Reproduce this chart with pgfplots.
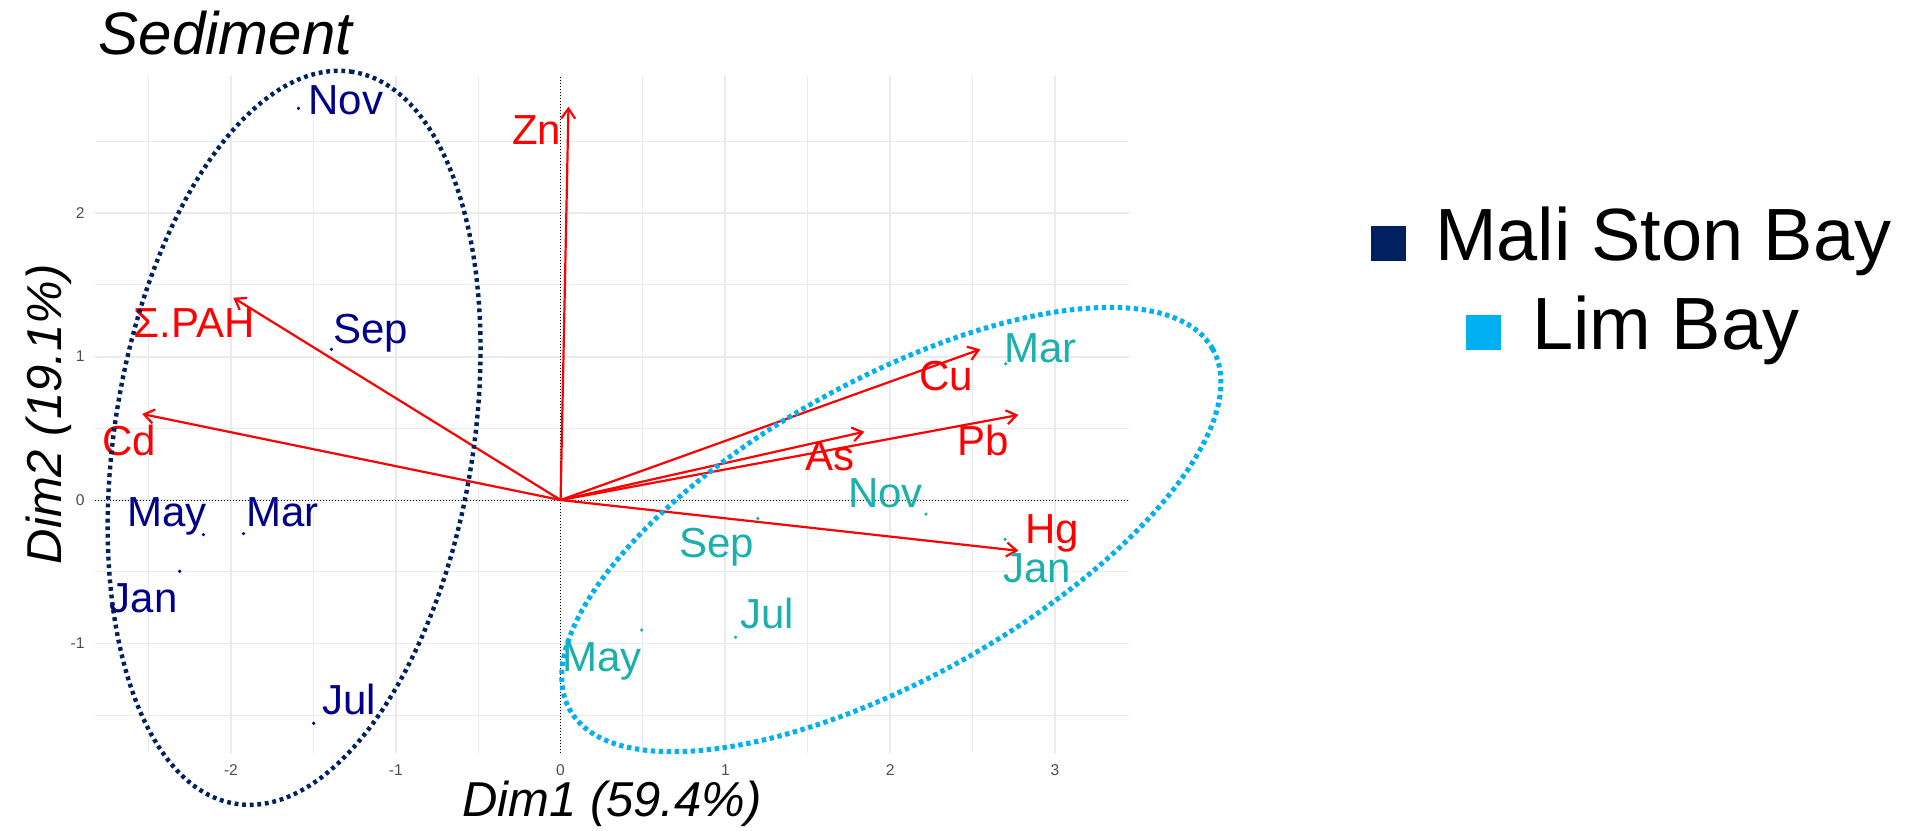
\documentclass[border=0pt]{standalone}
\usepackage{fontspec}
\setmainfont{Liberation Sans}
\usepackage{pgfplots}
\pgfplotsset{compat=1.18}
\usetikzlibrary{arrows.meta}
\definecolor{mali}{HTML}{00008B}
\definecolor{lim}{HTML}{1CB0AC}
\definecolor{maliell}{HTML}{002060}
\definecolor{limell}{HTML}{00B0F0}
\definecolor{gridc}{HTML}{EBEBEB}
\definecolor{tickc}{HTML}{4D4D4D}
\newcommand\lblfont{\fontsize{21}{24}\selectfont}
\begin{document}
\begin{tikzpicture}
\useasboundingbox (0,0) rectangle (960.5pt,415pt);
\begin{axis}[
  at={(47.5pt,38.65pt)}, anchor=south west,
  scale only axis, width=517pt, height=338.35pt,
  xmin=-2.825, xmax=3.449, ymin=-1.762, ymax=2.957,
  xtick={-2,-1,0,1,2,3}, ytick={-1,0,1,2},
  minor xtick={-2.5,-1.5,-0.5,0.5,1.5,2.5},
  minor ytick={-1.5,-0.5,0.5,1.5,2.5},
  grid=both,
  major grid style={gridc, line width=0.9pt},
  minor grid style={gridc, line width=0.5pt},
  axis line style={draw=none},
  major tick length=0pt, minor tick length=0pt,
  tick style={draw=none},
  ticklabel style={font=\fontsize{7.8}{9}\selectfont, text=tickc},
  /pgf/number format/assume math mode=true,
  xticklabel style={anchor=north, inner sep=0pt, yshift=-6pt},
  yticklabel style={anchor=east, inner sep=0pt, xshift=-5pt},
  xlabel={\itshape Dim1 (59.4\%)},
  ylabel={\itshape Dim2 (19.1\%)},
  label style={font=\fontsize{24.5}{28}\selectfont},
  xlabel style={at={([yshift=-32pt]axis description cs:0.5,0)}, anchor=base},
  ylabel style={at={([xshift=-16.5pt]axis description cs:0,0.5)}, anchor=base},
  clip=false,
]
% zero reference lines
\addplot[black, line width=0.5pt, dash pattern=on 0.5pt off 1pt] coordinates {(0,-1.762) (0,2.957)};
\addplot[black, line width=0.5pt, dash pattern=on 0.5pt off 1pt] coordinates {(-2.825,0) (3.449,0)};
% variable arrows
\addplot[red, line width=1.1pt, -{Straight Barb[length=5pt,width=7pt]}] coordinates {(0,0) (0.048,2.743)};
\addplot[red, line width=1.1pt, -{Straight Barb[length=5pt,width=7pt]}] coordinates {(0,0) (-1.986,1.411)};
\addplot[red, line width=1.1pt, -{Straight Barb[length=5pt,width=7pt]}] coordinates {(0,0) (-2.539,0.600)};
\addplot[red, line width=1.1pt, -{Straight Barb[length=5pt,width=7pt]}] coordinates {(0,0) (2.547,1.051)};
\addplot[red, line width=1.1pt, -{Straight Barb[length=5pt,width=7pt]}] coordinates {(0,0) (1.843,0.476)};
\addplot[red, line width=1.1pt, -{Straight Barb[length=5pt,width=7pt]}] coordinates {(0,0) (2.778,0.593)};
\addplot[red, line width=1.1pt, -{Straight Barb[length=5pt,width=7pt]}] coordinates {(0,0) (2.778,-0.354)};
% individuals
\addplot[only marks, mark=*, mark size=0.6pt, mali] coordinates {(-1.590,2.731) (-1.390,1.051) (-2.167,-0.241) (-1.924,-0.234) (-2.311,-0.497) (-1.498,-1.557)};
\addplot[only marks, mark=*, mark size=0.6pt, lim] coordinates {(0.492,-0.907) (1.062,-0.957) (1.197,-0.128) (2.217,-0.098) (2.697,-0.274) (2.70,0.95)};
% individual labels
\node[anchor=base west, inner sep=0pt, text=mali, font=\lblfont] at (axis cs:-1.532,2.685) {Nov};
\node[anchor=base west, inner sep=0pt, text=mali, font=\lblfont] at (axis cs:-1.380,1.095) {Sep};
\node[anchor=base west, inner sep=0pt, text=mali, font=\lblfont] at (axis cs:-2.630,-0.188) {May};
\node[anchor=base west, inner sep=0pt, text=mali, font=\lblfont] at (axis cs:-1.910,-0.188) {Mar};
\node[anchor=base west, inner sep=0pt, text=mali, font=\lblfont] at (axis cs:-2.737,-0.781) {Jan};
\node[anchor=base west, inner sep=0pt, text=mali, font=\lblfont] at (axis cs:-1.449,-1.499) {Jul};
\node[anchor=base west, inner sep=0pt, text=lim, font=\lblfont] at (axis cs:0.007,-1.199) {May};
\node[anchor=base west, inner sep=0pt, text=lim, font=\lblfont] at (axis cs:1.089,-0.893) {Jul};
\node[anchor=base west, inner sep=0pt, text=lim, font=\lblfont] at (axis cs:0.717,-0.404) {Sep};
\node[anchor=base west, inner sep=0pt, text=lim, font=\lblfont] at (axis cs:1.742,-0.049) {Nov};
\node[anchor=base west, inner sep=0pt, text=lim, font=\lblfont] at (axis cs:2.683,-0.572) {Jan};
\node[anchor=base west, inner sep=0pt, text=lim, font=\lblfont] at (axis cs:2.691,0.962) {Mar};
% variable labels
\node[anchor=base west, inner sep=0pt, text=red, font=\lblfont] at (axis cs:-0.297,2.476) {Zn};
\node[anchor=base west, inner sep=0pt, text=red, font=\lblfont] at (axis cs:-2.594,1.130) {Σ.PAH};
\node[anchor=base west, inner sep=0pt, text=red, font=\lblfont] at (axis cs:-2.783,0.314) {Cd};
\node[anchor=base west, inner sep=0pt, text=red, font=\lblfont] at (axis cs:2.175,0.767) {Cu};
\node[anchor=base west, inner sep=0pt, text=red, font=\lblfont] at (axis cs:1.484,0.209) {As};
\node[anchor=base west, inner sep=0pt, text=red, font=\lblfont] at (axis cs:2.404,0.314) {Pb};
\node[anchor=base west, inner sep=0pt, text=red, font=\lblfont] at (axis cs:2.819,-0.300) {Hg};
\coordinate (mc) at (axis cs:-1.617,0.434);
\coordinate (lc) at (axis cs:2.007,-0.206);
\end{axis}
% group ellipses
\draw[maliell, line width=2.2pt, dash pattern=on 1.9pt off 1.9pt, rotate around={80.9:(mc)}] (mc) ellipse [x radius=185.3pt, y radius=89.6pt];
\draw[limell, line width=2.5pt, dash pattern=on 2.2pt off 1.8pt, rotate around={29.3:(lc)}] (lc) ellipse [x radius=184.3pt, y radius=74.35pt];
% title
\node[anchor=base west, inner sep=0pt, font=\fontsize{30}{34}\selectfont\itshape] at (49.15pt,387.5pt) {Sediment};
% legend
\fill[maliell] (685.25pt,284.65pt) rectangle (703pt,302pt);
\node[anchor=base west, inner sep=0pt, font=\fontsize{37}{40}\selectfont] at (717.3pt,284.65pt) {Mali Ston Bay};
\fill[limell] (732.75pt,240pt) rectangle (750.5pt,257.5pt);
\node[anchor=base west, inner sep=0pt, font=\fontsize{37}{40}\selectfont] at (765.85pt,240pt) {Lim Bay};
\end{tikzpicture}
\end{document}
